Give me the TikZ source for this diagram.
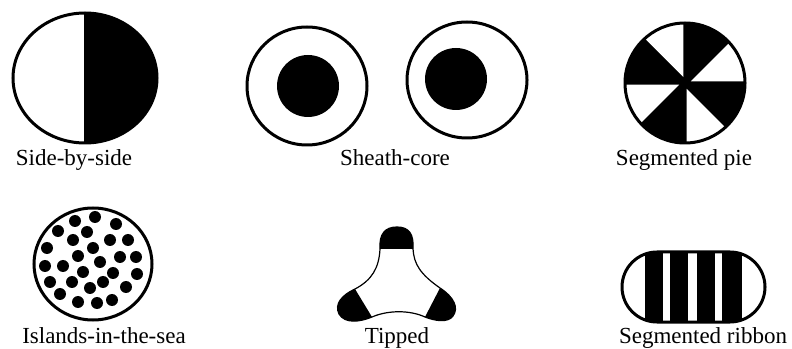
\documentclass[tikz,border=0pt]{standalone}
\usepackage{fontspec}
\setmainfont{Liberation Serif}
\usepackage{tikz}
\usetikzlibrary{positioning,calc}
\tikzset{
  fibre/.style={line width=3pt,draw=black},
  thinfibre/.style={line width=1.2pt,draw=black},
  caption/.style={anchor=base,inner sep=0pt,font=\fontsize{23}{25}\selectfont}
}

\begin{document}
\begin{tikzpicture}[x=1pt,y=1pt]
  \useasboundingbox (0,0) rectangle (792,348);

  % side-by-side
  \fill (85,335) arc[start angle=90,end angle=-90,x radius=72,y radius=65] -- cycle;
  \draw[fibre] (85,270) ellipse[x radius=72,y radius=65];
  \draw[line width=2pt] (85,335) -- (85,205);
  \node[caption] (sbs) at (74,182) {Side-by-side};

  % sheath-core
  \draw[fibre] (307,262) ellipse[x radius=60,y radius=59];
  \fill (308,262) circle[radius=31];
  \draw[fibre] (467,268) ellipse[x radius=60,y radius=58];
  \fill (456,269) circle[radius=31];
  \node[caption] (sheath) at (395,182) {Sheath-core};

  % segmented pie
  \begin{scope}
    \clip (685,265) circle[radius=60];
    \fill (685,265) circle[radius=60];
    \foreach \a in {0,90,180,270}
      \fill[white] ($(685,265)+(\a+15:6)$) -- ++(\a:130) -- ++(\a+90:130) -- cycle;
  \end{scope}
  \draw[fibre] (685,265) circle[radius=60];
  \node[caption] (pie) at (684,182) {Segmented pie};

  % islands-in-the-sea
  \draw[fibre] (93,84) ellipse[x radius=59,y radius=56];
  \foreach \x/\y in {95/131,75/127,116/124,58/117,87/116,73/108,110/108,128/108,
      47/100,93/100,78/92,120/91,136/91,45/82,63/82,100/86,83/76,113/75,137/74,
      50/66,72/66,103/66,90/60,126/61,60/54,78/46,97/45,112/48}
    \fill (\x,\y) circle[radius=6];
  \node[caption] (islands) at (104,5) {Islands-in-the-sea};

  % tipped
  \def\tippedpath{(380,99) .. controls (379,114) and (385,121) .. (397,121)
    .. controls (409,121) and (414,114) .. (413,99)
    .. controls (414,84) and (420,74) .. (440,60)
    .. controls (454,51) and (459,40) .. (453,32)
    .. controls (448,25) and (435,27) .. (425,31)
    .. controls (410,38) and (388,38) .. (372,31)
    .. controls (360,26) and (345,24) .. (339,34)
    .. controls (334,44) and (342,53) .. (355,59)
    .. controls (372,68) and (379,80) .. (380,99) -- cycle}
  \begin{scope}
    \clip \tippedpath;
    \fill (370,99) rectangle (425,130);
    \fill (355,59) -- (372,31) -- (320,0) -- (320,70) -- cycle;
    \fill (440,60) -- (425,31) -- (470,0) -- (470,70) -- cycle;
  \end{scope}
  \draw[thinfibre] \tippedpath;
  \node[caption] (tipped) at (397,5) {Tipped};

  % segmented ribbon
  \def\ribbonpath{(657,96) -- (730,96) arc[start angle=90,end angle=-90,radius=35]
    -- (657,26) arc[start angle=270,end angle=90,radius=35] -- cycle}
  \begin{scope}
    \clip \ribbonpath;
    \foreach \l/\r in {645/663,670/688,697/715,722/742}
      \fill (\l,20) rectangle (\r,100);
  \end{scope}
  \draw[fibre] \ribbonpath;
  \node[caption] (ribbon) at (703,5) {Segmented ribbon};
\end{tikzpicture}
\end{document}
